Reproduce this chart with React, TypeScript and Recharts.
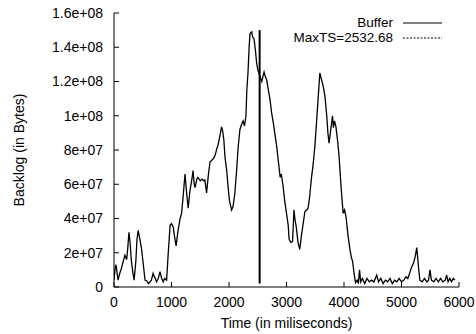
import { LineChart, Line, XAxis, YAxis, Legend, ReferenceLine } from "recharts";

const FONT = "'Liberation Sans', Arial, Helvetica, sans-serif";

// time in ms, backlog in units of 1e7 bytes
const timeMs = [
  0, 20, 35, 55, 70, 100, 130, 160, 190, 220, 240, 260, 280, 300, 330, 350, 380, 400, 420, 450,
  480, 510, 540, 570, 600, 625, 650, 680, 700, 720, 740, 770, 800, 830, 855, 880, 915, 940, 975, 1000,
  1030, 1055, 1080, 1110, 1150, 1175, 1200, 1235, 1260, 1290, 1320, 1350, 1375, 1395, 1410, 1440, 1460, 1500, 1530, 1560,
  1580, 1610, 1640, 1670, 1700, 1730, 1760, 1790, 1810, 1840, 1870, 1890, 1910, 1930, 1960, 1985, 2010, 2045, 2070, 2100,
  2130, 2160, 2190, 2220, 2245, 2270, 2295, 2310, 2330, 2350, 2365, 2395, 2410, 2435, 2460, 2480, 2500, 2520, 2545, 2570,
  2590, 2610, 2630, 2655, 2680, 2715, 2740, 2770, 2800, 2830, 2860, 2890, 2910, 2940, 2970, 3000, 3030, 3045, 3075, 3105,
  3130, 3145, 3170, 3200, 3230, 3260, 3290, 3320, 3350, 3375, 3400, 3435, 3465, 3495, 3520, 3550, 3580, 3610, 3640, 3670,
  3700, 3720, 3740, 3770, 3800, 3815, 3835, 3860, 3890, 3915, 3950, 3985, 4010, 4035, 4070, 4105, 4130, 4150, 4175, 4200,
  4230, 4250, 4270, 4290, 4320, 4360, 4400, 4440, 4480, 4520, 4570, 4600, 4640, 4680, 4720, 4760, 4800, 4840, 4880, 4920,
  4960, 5000, 5040, 5080, 5110, 5150, 5180, 5210, 5240, 5265, 5285, 5300, 5320, 5360, 5400, 5440, 5470, 5495, 5520, 5560,
  5600, 5640, 5680, 5720, 5760, 5785, 5810, 5840, 5870, 5900, 5930,
];

const backlogE7 = [
  0.4, 1.1, 1.3, 0.8, 0.4, 0.8, 1.1, 1.5, 1.85, 1.6, 2.3, 3.2, 2.6, 1.6, 0.8, 0.4, 1.5, 2.8, 3.3, 2.8,
  2.2, 1.3, 0.4, 0.35, 0.2, 0.3, 0.4, 0.8, 0.6, 0.5, 0.3, 0.5, 0.9, 0.5, 0.3, 0.5, 0.4, 1.8, 3.6, 3.7,
  3.5, 2.9, 2.4, 3.2, 4.0, 4.3, 5.2, 6.6, 5.6, 4.6, 5.6, 6.2, 6.8, 6.0, 5.8, 6.3, 6.4, 6.2, 6.3, 6.2,
  6.25, 5.5, 6.5, 7.3, 7.4, 7.5, 7.7, 8.1, 8.3, 8.8, 9.35, 9.1, 8.6, 7.6, 6.8, 5.8, 5.0, 4.5, 4.7, 5.4,
  6.7, 8.2, 9.2, 9.5, 9.7, 9.4, 10.0, 11.5, 12.5, 14.0, 14.8, 14.9, 14.6, 14.5, 13.8, 13.1, 12.7, 12.5, 12.2, 12.0,
  12.3, 12.55, 12.3, 12.1, 11.6, 10.9, 10.2, 9.6, 8.9, 8.2, 7.3, 6.4, 6.6, 5.9, 5.0, 4.3, 3.6, 2.8, 2.6, 2.65,
  4.5, 4.0, 3.5, 2.6, 2.2, 3.0, 3.7, 4.4, 4.5, 4.6, 5.2, 6.4, 7.2, 8.3, 9.5, 11.0, 12.5, 12.1, 11.7, 11.1,
  10.0, 9.0, 8.4, 9.2, 10.0, 9.3, 9.7, 9.35, 8.5, 7.6, 5.8, 4.3, 4.5, 4.1, 3.0, 2.15, 1.7, 1.5, 0.8, 0.25,
  0.4, 0.2, 1.0, 0.3, 0.5, 0.2, 0.5, 0.3, 0.4, 0.3, 0.7, 0.3, 0.5, 0.2, 0.4, 0.3, 0.5, 0.2, 0.4, 0.3,
  0.5, 0.3, 0.4, 0.6, 0.5, 0.9, 1.2, 1.4, 1.8, 2.3, 1.6, 1.0, 0.4, 0.3, 0.5, 0.3, 0.4, 1.0, 0.4, 0.3,
  0.5, 0.3, 0.5, 0.3, 0.4, 0.7, 0.3, 0.5, 0.3, 0.5, 0.4,
];

const maxTs = 2532.68;
const maxTsTop = 1.5e8;

const xTicks = [0, 1000, 2000, 3000, 4000, 5000, 6000];
const yTicks = [0, 2e7, 4e7, 6e7, 8e7, 1e8, 1.2e8, 1.4e8, 1.6e8];
const yTickLabels = ["0", "2e+07", "4e+07", "6e+07", "8e+07", "1e+08", "1.2e+08", "1.4e+08", "1.6e+08"];

const data = timeMs.map((t, i) => ({ t, v: backlogE7[i] * 1e7 }));

const tickStyle = { fill: "#000", fontSize: 14, fontFamily: FONT };

function renderLegend() {
  const row = (label: string, y: number, dash?: string) => (
    <>
      <span
        style={{
          position: "absolute", right: 476 - 393, top: y - 7, lineHeight: "14px", height: 14,
          fontSize: 13.5, fontFamily: FONT, color: "#000", whiteSpace: "nowrap",
        }}
      >
        {label}
      </span>
      <svg style={{ position: "absolute", left: 402, top: y - 2 }} width={42} height={4}>
        <line x1={1} y1={2} x2={40} y2={2} stroke="#000" strokeWidth={1} strokeDasharray={dash} />
      </svg>
    </>
  );
  return (
    <div style={{ position: "relative", width: 476, height: 50 }}>
      {row("Buffer", 23)}
      {row("MaxTS=2532.68", 37.5, "2 1.5")}
    </div>
  );
}

export default function App() {
  return (
    <div style={{ position: "absolute", left: 0, top: 0, width: 476, height: 334, background: "#fff" }}>
      <LineChart width={476} height={334} data={data} margin={{ top: 13, right: 17, bottom: 0, left: 0 }}>
        <XAxis
          dataKey="t"
          type="number"
          domain={[0, 6000]}
          ticks={xTicks}
          height={47}
          tickSize={-5}
          tickMargin={15}
          tick={tickStyle}
          stroke="#000"
          allowDataOverflow
          label={{
            content: ({ viewBox }: any) => (
              <text
                x={viewBox.x + viewBox.width / 2}
                y={328}
                textAnchor="middle"
                fontSize={14}
                fontFamily={FONT}
                fill="#000"
              >
                Time (in miliseconds)
              </text>
            ),
          }}
        />
        <XAxis
          xAxisId="top"
          orientation="top"
          type="number"
          domain={[0, 6000]}
          ticks={xTicks}
          height={0}
          tickSize={-5}
          tick={false}
          stroke="#000"
        />
        <YAxis
          type="number"
          domain={[0, 1.6e8]}
          ticks={yTicks}
          width={114}
          tickSize={-5}
          tickMargin={16}
          tick={tickStyle}
          tickFormatter={(v: number) => yTickLabels[yTicks.indexOf(v)] ?? String(v)}
          stroke="#000"
          allowDataOverflow
          label={{
            content: ({ viewBox }: any) => (
              <text
                x={24}
                y={viewBox.y + viewBox.height / 2}
                transform={`rotate(-90, 24, ${viewBox.y + viewBox.height / 2})`}
                textAnchor="middle"
                fontSize={14}
                fontFamily={FONT}
                fill="#000"
              >
                Backlog (in Bytes)
              </text>
            ),
          }}
        />
        <YAxis
          yAxisId="right"
          orientation="right"
          type="number"
          domain={[0, 1.6e8]}
          ticks={yTicks}
          width={0}
          tickSize={-5}
          tick={false}
          stroke="#000"
        />
        <Legend
          layout="vertical"
          align="center"
          verticalAlign="middle"
          wrapperStyle={{ left: 0, top: 0, width: 476, height: 50 }}
          content={renderLegend}
        />
        <ReferenceLine
          segment={[{ x: maxTs, y: 2e6 }, { x: maxTs, y: maxTsTop }]}
          stroke="#000"
          strokeWidth={2}
          ifOverflow="extendDomain"
        />
        <Line
          type="linear"
          dataKey="v"
          name="Buffer"
          stroke="#000"
          strokeWidth={1.3}
          dot={false}
          isAnimationActive={false}
        />
      </LineChart>
    </div>
  );
}
